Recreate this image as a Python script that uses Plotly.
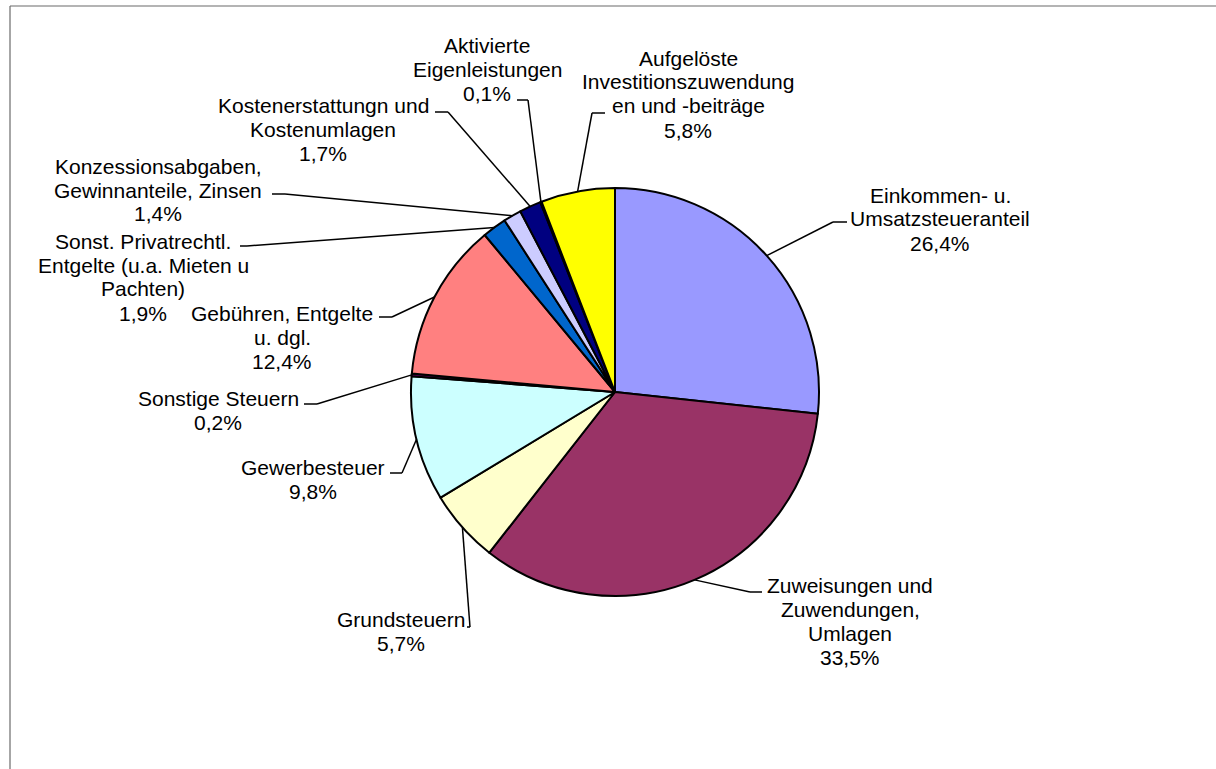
import math
import plotly.graph_objects as go

# ---------------- data ----------------
categories = [
    "Einkommen- u.\nUmsatzsteueranteil",
    "Zuweisungen und\nZuwendungen,\nUmlagen",
    "Grundsteuern",
    "Gewerbesteuer",
    "Sonstige Steuern",
    "Gebühren, Entgelte\nu. dgl.",
    "Sonst. Privatrechtl.\nEntgelte (u.a. Mieten u\nPachten)",
    "Konzessionsabgaben,\nGewinnanteile, Zinsen",
    "Kostenerstattungn und\nKostenumlagen",
    "Aktivierte\nEigenleistungen",
    "Aufgelöste\nInvestitionszuwendung\nen und -beiträge",
]
shares = [26.4, 33.5, 5.7, 9.8, 0.2, 12.4, 1.9, 1.4, 1.7, 0.1, 5.8]
colors = ["#9999FF", "#993366", "#FFFFCC", "#CCFFFF", "#660066", "#FF8080",
          "#0066CC", "#CCCCFF", "#000080", "#FF00FF", "#FFFF00"]

# ---------------- layout (pixels) ----------------
W, H = 1216, 769
CX, CY, R = 615, 392, 204
LINE_H = 24
FONT = dict(family="Liberation Sans, Arial, sans-serif", size=21, color="black")

# label center x, first-line center y, leader elbow, leader end
label_layout = [
    (940, 195, (833, 222), (847, 222)),
    (850, 585, (750, 592), (762, 592)),
    (401, 619, (470, 627), (467, 627)),
    (313, 467, (402, 473), (390, 473)),
    (218, 398, (317, 404), (304, 404)),
    (282, 313, (392, 317), (379, 317)),
    (143, 241, (247, 246), (240, 246)),
    (158, 166, (285, 194), (272, 194)),
    (323, 105, (448, 112), (435, 112)),
    (487, 45, (528, 100), (517, 100)),
    (688, 58, (592, 113), (605, 113)),
]


def px(x):
    return x / W


def py(y):
    return 1 - y / H


fig = go.Figure(go.Pie(
    labels=[c.replace("\n", " ") for c in categories],
    values=shares,
    sort=False,
    direction="clockwise",
    rotation=0,
    marker=dict(colors=colors, line=dict(color="black", width=2)),
    textinfo="none",
    hoverinfo="label+percent",
    domain=dict(x=[px(CX - R), px(CX + R)], y=[py(CY + R), py(CY - R)]),
))

annotations = []
shapes = []
total = sum(shares)
cum = 0.0
for cat, val, (lx, ly, elbow, end) in zip(categories, shares, label_layout):
    mid = (cum + val / 2) / total
    cum += val
    th = 2 * math.pi * mid
    ax = CX + R * math.sin(th)
    ay = CY - R * math.cos(th)
    lines = cat.split("\n") + [f"{val:.1f}".replace(".", ",") + "%"]
    for i, t in enumerate(lines):
        annotations.append(dict(
            x=px(lx), y=py(ly + i * LINE_H), xref="paper", yref="paper",
            text=t, showarrow=False, xanchor="center", yanchor="middle",
            font=FONT,
        ))
    for (x0, y0), (x1, y1) in [((ax, ay), elbow), (elbow, end)]:
        shapes.append(dict(type="line", xref="paper", yref="paper",
                           x0=px(x0), y0=py(y0), x1=px(x1), y1=py(y1),
                           line=dict(color="black", width=1.5)))

# outer frame (left and top edges visible)
shapes.append(dict(type="line", xref="paper", yref="paper",
                   x0=px(10), y0=py(6), x1=px(10), y1=py(H + 5),
                   line=dict(color="#6b6b6b", width=1.2)))
shapes.append(dict(type="line", xref="paper", yref="paper",
                   x0=px(10), y0=py(6), x1=px(W + 5), y1=py(6),
                   line=dict(color="#6b6b6b", width=1.2)))

fig.update_layout(
    width=W, height=H,
    margin=dict(l=0, r=0, t=0, b=0),
    paper_bgcolor="white",
    plot_bgcolor="white",
    showlegend=False,
    annotations=annotations,
    shapes=shapes,
)

fig.write_html(
    "out.html",
    config={"displayModeBar": False},
    post_script="document.body.style.margin='0';document.body.style.overflow='hidden';",
)
